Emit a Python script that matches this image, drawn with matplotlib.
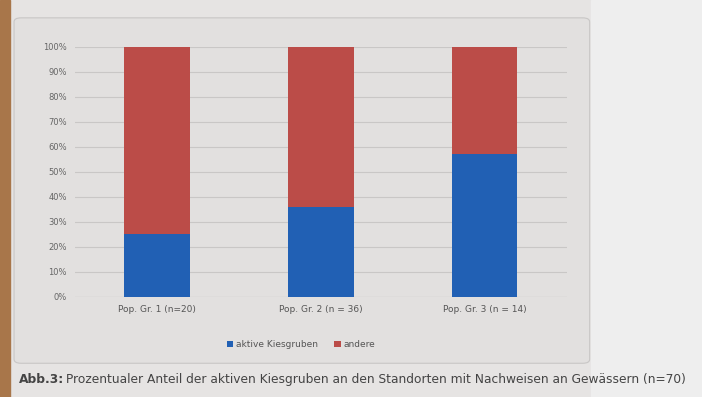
import matplotlib.pyplot as plt
from matplotlib.patches import Rectangle, FancyBboxPatch
import numpy as np

categories = ["Pop. Gr. 1 (n=20)", "Pop. Gr. 2 (n = 36)", "Pop. Gr. 3 (n = 14)"]
aktive = [25, 36, 57]
andere = [75, 64, 43]
yticks = [0, 10, 20, 30, 40, 50, 60, 70, 80, 90, 100]
ytick_labels = [f"{v}%" for v in yticks]
series_names = ["aktive Kiesgruben", "andere"]
caption_bold = "Abb.3:"
caption_rest = " Prozentualer Anteil der aktiven Kiesgruben an den Standorten mit Nachweisen an Gewässern (n=70)"

blue = "#2160b4"
red = "#bb4c48"

fig = plt.figure(figsize=(7.02, 3.97), dpi=100, facecolor="#e6e4e3")
# cork board strip on the left
fig.add_artist(Rectangle((0, 0), 0.014, 1, transform=fig.transFigure, color="#a8764a", zorder=0))
# chart frame
fig.add_artist(FancyBboxPatch((0.02, 0.085), 0.82, 0.87, boxstyle="round,pad=0.0,rounding_size=0.01",
                              transform=fig.transFigure, facecolor="#e2e0df", edgecolor="#c8c6c5",
                              linewidth=0.8, zorder=0))
# whiter paper on the right
fig.add_artist(Rectangle((0.842, 0), 0.158, 1, transform=fig.transFigure, color="#eeeeee", zorder=0))

ax = fig.add_axes([0.107, 0.252, 0.70, 0.630])
ax.set_facecolor("none")
x = np.arange(len(categories))
w = 0.40
ax.bar(x, aktive, w, color=blue, label=series_names[0], zorder=3)
ax.bar(x, andere, w, bottom=aktive, color=red, label=series_names[1], zorder=3)

ax.set_xlim(-0.5, 2.5)
ax.set_ylim(0, 100)
ax.set_yticks(yticks)
ax.set_yticklabels(ytick_labels, fontsize=6, color="#666666")
ax.set_xticks(x)
ax.set_xticklabels(categories, fontsize=6.5, color="#555555")
ax.tick_params(length=0, pad=6)
ax.grid(axis="y", color="#c9c7c6", linewidth=0.8, zorder=0)
for s in ax.spines.values():
    s.set_visible(False)
ax.axhline(0, color="#c9c7c6", linewidth=0.8, zorder=1)

ax.legend(loc="upper center", bbox_to_anchor=(0.46, -0.14), ncol=2, frameon=False,
          fontsize=6.5, handlelength=0.7, handleheight=0.7, handletextpad=0.3,
          columnspacing=1.8, labelcolor="#555555")

fig.text(0.027, 0.035, caption_bold, fontsize=8.8, fontweight="bold", color="#444444")
fig.text(0.027 + 0.062, 0.035, caption_rest, fontsize=8.8, color="#444444")

fig.savefig("out.png", dpi=100, facecolor=fig.get_facecolor())
